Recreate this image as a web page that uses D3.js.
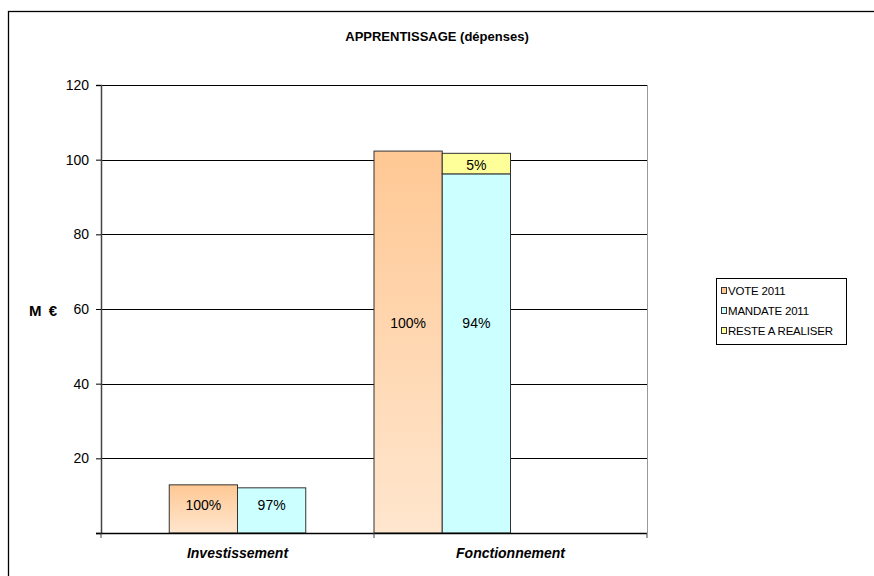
<!DOCTYPE html>
<html>
<head>
<meta charset="utf-8">
<script src="https://cdn.jsdelivr.net/npm/d3@7"></script>
<style>
html,body{margin:0;padding:0;background:#fff;}
svg{display:block;font-family:"Liberation Sans",Arial,sans-serif;}
</style>
</head>
<body>
<svg id="chart" width="874" height="576"></svg>
<script>
// ---- data ----
const categories = ["Investissement", "Fonctionnement"];
const seriesNames = ["VOTE 2011", "MANDATE 2011", "RESTE A REALISER"];
const voteValues = [12.9, 102.3];
const mandateValues = [12.1, 96.2];
const resteValues = [0, 5.5];
const voteLabels = ["100%", "100%"];
const mandateLabels = ["97%", "94%"];
const resteLabels = ["", "5%"];
const labelAnchors = [7.5, 56.3];      // value at which the % labels sit
const voteSlot = [1, 0];               // slot of the bar within its category
const mandateSlot = [2, 1];
const slots = [0, 1, 2, 3];
const yTicks = [0, 20, 40, 60, 80, 100, 120];
const title = "APPRENTISSAGE (dépenses)";
const yTitle = "M €";

// ---- layout ----
const svg = d3.select("#chart");
const plot = {left: 101, right: 647, top: 85, bottom: 533};

const defs = svg.append("defs");
const grad = defs.append("linearGradient").attr("id", "gOrange")
  .attr("x1", 0).attr("y1", 0).attr("x2", 0).attr("y2", 1);
grad.append("stop").attr("offset", "0%").attr("stop-color", "#FFC894");
grad.append("stop").attr("offset", "100%").attr("stop-color", "#FFE6CE");

// outer border
svg.append("rect").attr("x", 8.5).attr("y", 11.5).attr("width", 900).attr("height", 600)
  .attr("fill", "none").attr("stroke", "#000").attr("stroke-width", 1.3);

const x0 = d3.scaleBand().domain(categories).range([plot.left, plot.right]).padding(0);
const x1 = d3.scaleBand().domain(slots).range([0, x0.bandwidth()]).padding(0);
const y = d3.scaleLinear().domain([0, 120]).range([plot.bottom, plot.top]);

// plot area right border (light)
svg.append("line").attr("x1", plot.right + 0.5).attr("x2", plot.right + 0.5)
  .attr("y1", plot.top).attr("y2", plot.bottom)
  .attr("stroke", "#999").attr("stroke-width", 1);

// gridlines
svg.append("g").selectAll("line").data(yTicks.filter(d => d > 0)).join("line")
  .attr("x1", plot.left).attr("x2", plot.right)
  .attr("y1", d => Math.round(y(d)) + 0.5).attr("y2", d => Math.round(y(d)) + 0.5)
  .attr("stroke", "#000").attr("stroke-width", 1);

// bars
const gBars = svg.append("g");
categories.forEach((c, i) => {
  const base = x0(c);
  gBars.append("rect")
    .attr("x", base + x1(voteSlot[i])).attr("width", x1.bandwidth())
    .attr("y", y(voteValues[i])).attr("height", y(0) - y(voteValues[i]))
    .attr("fill", "url(#gOrange)").attr("stroke", "#333").attr("stroke-width", 1);
  gBars.append("rect")
    .attr("x", base + x1(mandateSlot[i])).attr("width", x1.bandwidth())
    .attr("y", y(mandateValues[i])).attr("height", y(0) - y(mandateValues[i]))
    .attr("fill", "#CCFFFF").attr("stroke", "#333").attr("stroke-width", 1);
  if (resteValues[i] > 0) {
    const top = mandateValues[i] + resteValues[i];
    gBars.append("rect")
      .attr("x", base + x1(mandateSlot[i])).attr("width", x1.bandwidth())
      .attr("y", y(top)).attr("height", y(mandateValues[i]) - y(top))
      .attr("fill", "#FFFF99").attr("stroke", "#333").attr("stroke-width", 1);
    gBars.append("text")
      .attr("x", base + x1(mandateSlot[i]) + x1.bandwidth() / 2)
      .attr("y", y(mandateValues[i] + resteValues[i] / 2) + 2)
      .attr("dy", "0.35em").attr("text-anchor", "middle")
      .attr("font-size", 14).attr("fill", "#000").text(resteLabels[i]);
  }
  gBars.append("text")
    .attr("x", base + x1(voteSlot[i]) + x1.bandwidth() / 2)
    .attr("y", y(labelAnchors[i])).attr("dy", "0.35em").attr("text-anchor", "middle")
    .attr("font-size", 14).attr("fill", "#000").text(voteLabels[i]);
  gBars.append("text")
    .attr("x", base + x1(mandateSlot[i]) + x1.bandwidth() / 2)
    .attr("y", y(labelAnchors[i])).attr("dy", "0.35em").attr("text-anchor", "middle")
    .attr("font-size", 14).attr("fill", "#000").text(mandateLabels[i]);
});

// y axis
const yAxis = d3.axisLeft(y).tickValues(yTicks).tickSize(5).tickPadding(7)
  .tickFormat(d => d === 0 ? "" : d);
const gy = svg.append("g").attr("transform", `translate(${plot.left},0)`).call(yAxis);
gy.select(".domain").attr("stroke", "#444").attr("stroke-width", 1.5);
gy.selectAll(".tick line").attr("stroke", "#000");
gy.selectAll(".tick text").attr("font-size", 14).attr("fill", "#000")
  .attr("font-family", "Liberation Sans, Arial, sans-serif");

// x axis
const xTickPos = categories.map(c => x0(c)).concat([plot.right]);
svg.append("line").attr("x1", plot.left - 5).attr("x2", plot.right)
  .attr("y1", plot.bottom + 0.5).attr("y2", plot.bottom + 0.5)
  .attr("stroke", "#000").attr("stroke-width", 1.3);
svg.append("g").selectAll("line").data(xTickPos).join("line")
  .attr("x1", d => d).attr("x2", d => d)
  .attr("y1", plot.bottom).attr("y2", plot.bottom + 5)
  .attr("stroke", "#444").attr("stroke-width", 1);
svg.append("g").selectAll("text").data(categories).join("text")
  .attr("x", d => x0(d) + x0.bandwidth() / 2).attr("y", 558)
  .attr("text-anchor", "middle").attr("font-size", 14)
  .attr("font-weight", "bold").attr("font-style", "italic").text(d => d);

// title
svg.append("text").attr("x", 437).attr("y", 41).attr("text-anchor", "middle")
  .attr("font-size", 13).attr("font-weight", "bold").text(title);

// y title
svg.append("text").attr("x", 43).attr("y", 316).attr("text-anchor", "middle")
  .attr("font-size", 15).attr("font-weight", "bold").attr("word-spacing", 3).text(yTitle);

// legend
const legColors = ["#FFC894", "#CCFFFF", "#FFFF99"];
const leg = svg.append("g");
leg.append("rect").attr("x", 716.5).attr("y", 278.5).attr("width", 130).attr("height", 66)
  .attr("fill", "#fff").attr("stroke", "#000").attr("stroke-width", 1);
seriesNames.forEach((s, i) => {
  const cy = 291 + i * 20;
  leg.append("rect").attr("x", 721.5).attr("y", cy - 3.5).attr("width", 5).attr("height", 6)
    .attr("fill", legColors[i]).attr("stroke", "#333").attr("stroke-width", 1);
  leg.append("text").attr("x", 728).attr("y", cy).attr("dy", "0.35em")
    .attr("font-size", 11.5).attr("letter-spacing", "-0.2").text(s);
});
</script>
</body>
</html>
